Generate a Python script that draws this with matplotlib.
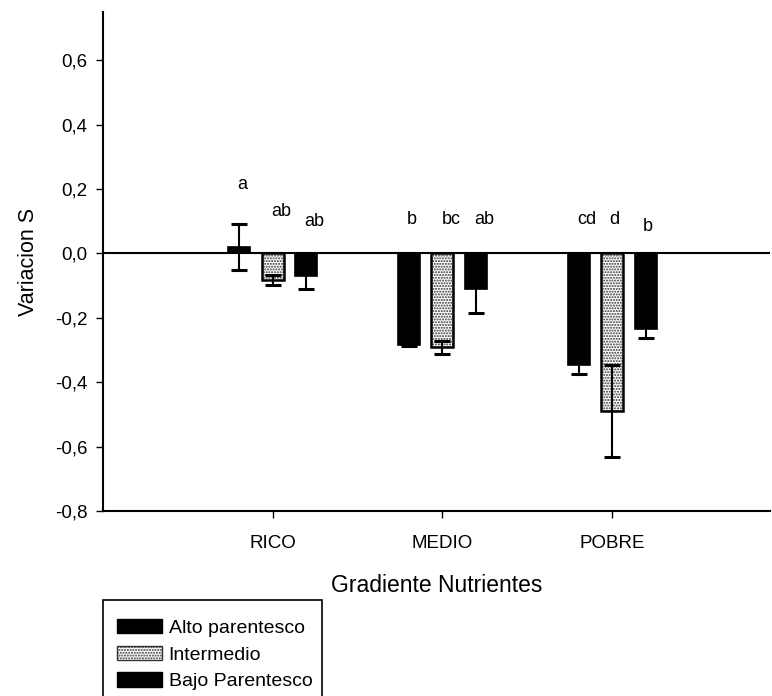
import numpy as np
import matplotlib.pyplot as plt
from matplotlib.patches import Rectangle, Patch

plt.rcParams['font.family'] = ['Liberation Sans', 'DejaVu Sans']

# Data
groups = ["RICO", "MEDIO", "POBRE"]
series = ["Alto parentesco", "Intermedio", "Bajo Parentesco"]
alto = [0.02, -0.285, -0.346]
alto_err = [0.07, 0.004, 0.03]
inter = [-0.082, -0.292, -0.49]
inter_err = [0.015, 0.02, 0.142]
bajo = [-0.07, -0.11, -0.235]
bajo_err = [0.04, 0.076, 0.028]
letters_alto = ["a", "b", "cd"]
letters_inter = ["ab", "bc", "d"]
letters_bajo = ["ab", "ab", "b"]
letter_y_alto = [0.215, 0.105, 0.105]
letter_y_inter = [0.13, 0.105, 0.105]
letter_y_bajo = [0.10, 0.105, 0.085]

fig = plt.figure(figsize=(7.72, 6.96), dpi=100)
ax = fig.add_axes([0.1334, 0.2658, 0.8640, 0.7170])

x = np.arange(len(groups))
w = 0.13
step = 0.197
ebkw = dict(ecolor="black", elinewidth=1.5, capsize=5.8, capthick=2.2)

# Alto parentesco
ax.bar(x - step, alto, w, color="black", edgecolor="black", linewidth=1.2, zorder=2)
ax.errorbar(x - step, alto, yerr=alto_err, fmt="none", zorder=3, **ebkw)

# Intermedio: stippled fill with black outline
ax.bar(x, inter, w, color="white", edgecolor="#333333", hatch="......", linewidth=0, zorder=2)
ax.bar(x, inter, w, fill=False, edgecolor="black", linewidth=1.8, zorder=2)
ax.errorbar(x, inter, yerr=inter_err, fmt="none", zorder=3, **ebkw)

# Bajo parentesco
ax.bar(x + step, bajo, w, color="black", edgecolor="black", linewidth=1.2, zorder=2)
ax.errorbar(x + step, bajo, yerr=bajo_err, fmt="none", zorder=3, **ebkw)

# significance letters
for i in range(len(groups)):
    for off, lab, ly in [(-step, letters_alto[i], letter_y_alto[i]),
                         (0, letters_inter[i], letter_y_inter[i]),
                         (step, letters_bajo[i], letter_y_bajo[i])]:
        dx = 0.05 if len(lab) > 1 else 0.015
        ax.text(x[i] + off + dx, ly, lab, ha="center", va="center", fontsize=13)

ax.axhline(0, color="black", linewidth=1.5, zorder=1)

ax.set_xlim(-1.0, 2.93)
ax.set_ylim(-0.8, 0.75)
yt = np.arange(-0.8, 0.61, 0.2)
ax.set_yticks(yt)
ax.set_yticklabels([f"{v:.1f}".replace(".", ",").replace("-0,0", "0,0") for v in yt], fontsize=13.5)
ax.set_xticks(x)
ax.set_xticklabels(groups, fontsize=13.5)
ax.tick_params(axis="both", direction="out", length=5, width=1, color="black")
ax.tick_params(axis="y", pad=6)
ax.tick_params(axis="x", pad=12)

for s in ["top", "right"]:
    ax.spines[s].set_visible(False)
ax.spines["left"].set_linewidth(1.5)
ax.spines["bottom"].set_linewidth(1.5)

ax.set_ylabel("Variacion S", fontsize=15.5, labelpad=12)
ax.set_xlabel("Gradiente Nutrientes", fontsize=16.5, labelpad=16)

# legend (frame runs off the bottom of the figure)
fig.patches.append(Rectangle((103 / 772, -0.05), 219 / 772, 0.05 + 96 / 696,
                             transform=fig.transFigure, fill=False,
                             edgecolor="black", linewidth=1.2))
handles = [Patch(facecolor="black", edgecolor="black"),
           Patch(facecolor="white", edgecolor="#333333", hatch="......"),
           Patch(facecolor="black", edgecolor="black")]
fig.legend(handles, series, loc="upper left", bbox_to_anchor=(117 / 772, 1 - 619 / 696),
           frameon=False, fontsize=14, handlelength=2.3, handleheight=0.75,
           labelspacing=0.45, handletextpad=0.35, borderpad=0, borderaxespad=0)

fig.savefig("out.png", dpi=100)
